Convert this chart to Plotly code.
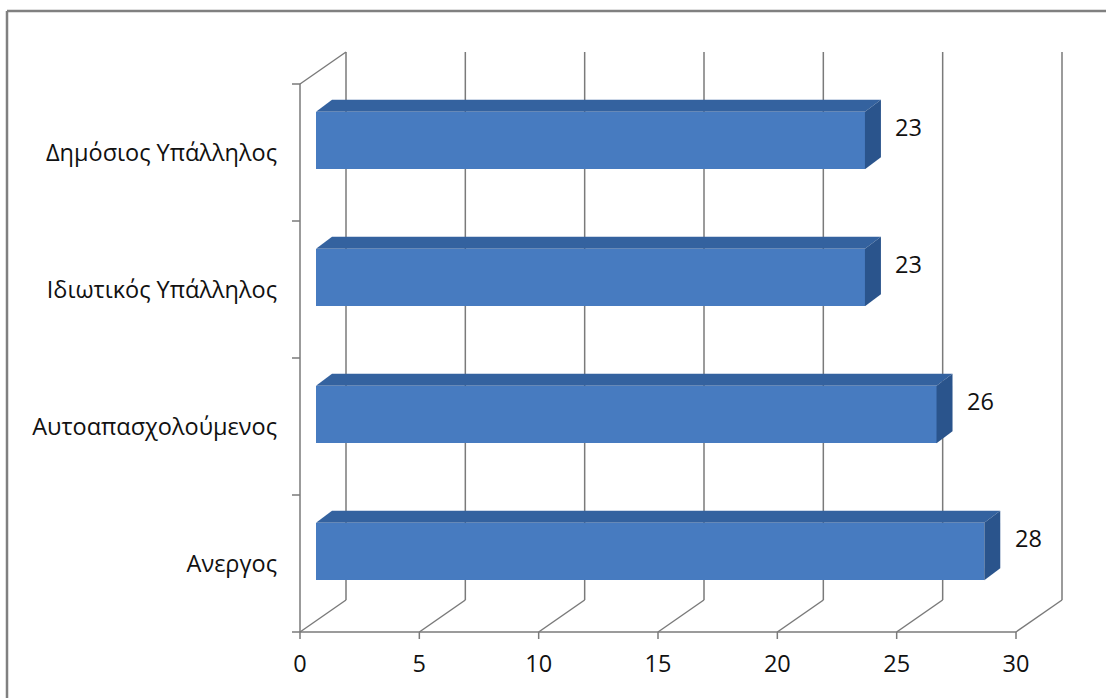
import plotly.graph_objects as go

# ---------------- data ----------------
categories = ["Ανεργος", "Αυτοαπασχολούμενος", "Ιδιωτικός Υπάλληλος", "Δημόσιος Υπάλληλος"]
values = [28, 26, 23, 23]
x_ticks = [0, 5, 10, 15, 20, 25, 30]
x_tick_labels = ["0", "5", "10", "15", "20", "25", "30"]

# ---------------- geometry (pixels) ----------------
W, H = 1106, 698
X_MAX = 30
PX = 716 / X_MAX          # pixels per x unit
PY = 137                  # pixels per category
X0, YB = 316, 620         # bar-plane origin (x=0, bottom edge)
PL, PR, PT, PB = 290, 1068, 44, 642   # plot area edges

xr = [(PL - X0) / PX, (PR - X0) / PX]
yr = [-0.5 - (PB - YB) / PY, -0.5 + (YB - PT) / PY]

fdx, fdy = -16 / PX, -12 / PY      # front plane offset
kdx, kdy = 30 / PX, 20 / PY        # back plane offset
bdx, bdy = 16 / PX, 12 / PY        # bar depth
BW = 0.42

FRONT = "#477BC0"
TOP = "#34629F"
SIDE = "#2A548C"
LINE = "#7a7a7a"
FONT = "Open Sans"
FS = 23.5

idx = list(range(len(categories)))
n = len(categories)

fig = go.Figure()

# bar front faces
fig.add_trace(go.Bar(x=values, y=idx, orientation="h", width=BW,
                     marker=dict(color=FRONT, line=dict(width=0)),
                     hoverinfo="skip", showlegend=False))

# 3D top and side faces
for v, c in zip(values, idx):
    y_top = c + BW / 2
    y_bot = c - BW / 2
    fig.add_trace(go.Scatter(
        x=[0, v, v + bdx, bdx, 0], y=[y_top, y_top, y_top + bdy, y_top + bdy, y_top],
        fill="toself", fillcolor=TOP, mode="lines", line=dict(width=0, color=TOP),
        hoverinfo="skip", showlegend=False))
    fig.add_trace(go.Scatter(
        x=[v, v + bdx, v + bdx, v, v], y=[y_bot, y_bot + bdy, y_top + bdy, y_top, y_bot],
        fill="toself", fillcolor=SIDE, mode="lines", line=dict(width=0, color=SIDE),
        hoverinfo="skip", showlegend=False))

shapes = []
def ln(x0, y0, x1, y1, w=1.5):
    shapes.append(dict(type="line", xref="x", yref="y", x0=x0, y0=y0, x1=x1, y1=y1,
                       line=dict(color=LINE, width=w), layer="below"))

y_lo, y_hi = -0.5, n - 0.5
# back wall gridlines and floor diagonals
for t in x_ticks:
    ln(t + kdx, y_lo + kdy, t + kdx, y_hi + kdy)
    ln(t + fdx, y_lo + fdy, t + kdx, y_lo + kdy)
    # tick marks below front floor line
    shapes.append(dict(type="line", xref="x", yref="y", ysizemode="pixel",
                       yanchor=y_lo + fdy, x0=t + fdx, x1=t + fdx, y0=0, y1=-7,
                       line=dict(color=LINE, width=1.5), layer="below"))
# front floor line
ln(x_ticks[0] + fdx, y_lo + fdy, x_ticks[-1] + fdx, y_lo + fdy)
# left wall
ln(fdx, y_lo + fdy, fdx, y_hi + fdy)
ln(fdx, y_hi + fdy, kdx, y_hi + kdy)
# category boundary ticks on the left wall
for b in range(n + 1):
    shapes.append(dict(type="line", xref="x", yref="y", xsizemode="pixel",
                       xanchor=fdx, x0=-8, x1=0, y0=b - 0.5 + fdy, y1=b - 0.5 + fdy,
                       line=dict(color=LINE, width=1.5), layer="below"))

# outer chart border (only left and top edges are visible in the crop)
for (x0, x1, y0, y1) in [(7 - PL, 7 - PL, PT - 11, -(H + 20 - PT)),
                         (7 - PL, W + 20 - PL, PT - 11, PT - 11)]:
    shapes.append(dict(type="line", xref="paper", yref="paper",
                       xsizemode="pixel", ysizemode="pixel", xanchor=0, yanchor=1,
                       x0=x0, x1=x1, y0=y0, y1=y1,
                       line=dict(color="#808080", width=2.5), layer="below"))

annotations = []
for v, c in zip(values, idx):
    annotations.append(dict(x=v, y=c, xref="x", yref="y", text=str(v), showarrow=False,
                            xanchor="center", yanchor="middle", xshift=44, yshift=14,
                            font=dict(family=FONT, size=FS, color="#111")))

fig.update_layout(
    width=W, height=H,
    margin=dict(l=PL, r=W - PR, t=PT, b=H - PB, autoexpand=False),
    paper_bgcolor="white", plot_bgcolor="white",
    shapes=shapes, annotations=annotations,
    bargap=0,
    xaxis=dict(range=xr, tickmode="array", tickvals=[t + fdx for t in x_ticks],
               ticktext=x_tick_labels, showgrid=False, zeroline=False, showline=False,
               ticks="", ticklabelstandoff=5,
               tickfont=dict(family=FONT, size=FS, color="#111"), fixedrange=True),
    yaxis=dict(range=yr, tickmode="array", tickvals=[c + fdy for c in idx],
               ticktext=categories, showgrid=False, zeroline=False, showline=False,
               ticks="", ticklabelstandoff=12,
               tickfont=dict(family=FONT, size=FS, color="#111"), fixedrange=True),
    showlegend=False,
)

fig.write_html("out.html")
